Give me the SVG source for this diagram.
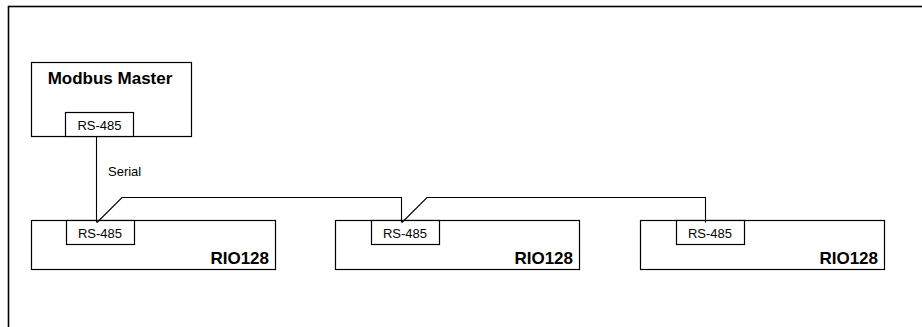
<svg xmlns="http://www.w3.org/2000/svg" width="922" height="327" viewBox="0 0 922 327">
<style>
.box{fill:#fff;stroke:#000;stroke-width:1.2}
.frame{fill:none;stroke:#000;stroke-width:1.6}
.port{font-family:"Liberation Sans",Arial,sans-serif;font-size:13px;fill:#000;text-anchor:middle}
.title{font-family:"Liberation Sans",Arial,sans-serif;font-size:17px;font-weight:bold;fill:#000}
.wire{fill:none;stroke:#000;stroke-width:1.1}
.lbl{font-family:"Liberation Sans",Arial,sans-serif;font-size:13px;fill:#000}
</style>
<rect width="922" height="327" fill="#fff"/>
<rect class="frame" x="8.5" y="6.5" width="1000" height="400"/>
<g id="master">
<rect class="box" x="31.5" y="62.5" width="160" height="74"/>
<text class="title" x="110" y="84" text-anchor="middle">Modbus Master</text>
<rect class="box" x="65.5" y="112.5" width="68" height="24"/>
<text class="port" x="99.5" y="130">RS-485</text>
</g>
<g id="rio1">
<rect class="box" x="31.5" y="220.5" width="244" height="49"/>
<text class="title" x="269" y="263.5" text-anchor="end">RIO128</text>
<rect class="box" x="66.5" y="220.5" width="68" height="24"/>
<text class="port" x="100" y="237.5">RS-485</text>
</g>
<g id="rio2">
<rect class="box" x="335.5" y="220.5" width="244" height="49"/>
<text class="title" x="573" y="263.5" text-anchor="end">RIO128</text>
<rect class="box" x="371.5" y="220.5" width="68" height="24"/>
<text class="port" x="405" y="237.5">RS-485</text>
</g>
<g id="rio3">
<rect class="box" x="640.5" y="220.5" width="244" height="49"/>
<text class="title" x="878" y="263.5" text-anchor="end">RIO128</text>
<rect class="box" x="676.5" y="220.5" width="68" height="24"/>
<text class="port" x="710" y="237.5">RS-485</text>
</g>
<g id="connectors">
<path class="wire" d="M96.5 136.5 V222.5"/>
<text class="lbl" x="108" y="176">Serial</text>
<path class="wire" d="M97 222.5 L122 197.5 H401.5 V222.5"/>
<path class="wire" d="M402 222.5 L427 197.5 H705.5 V222.5"/>
</g>
</svg>
